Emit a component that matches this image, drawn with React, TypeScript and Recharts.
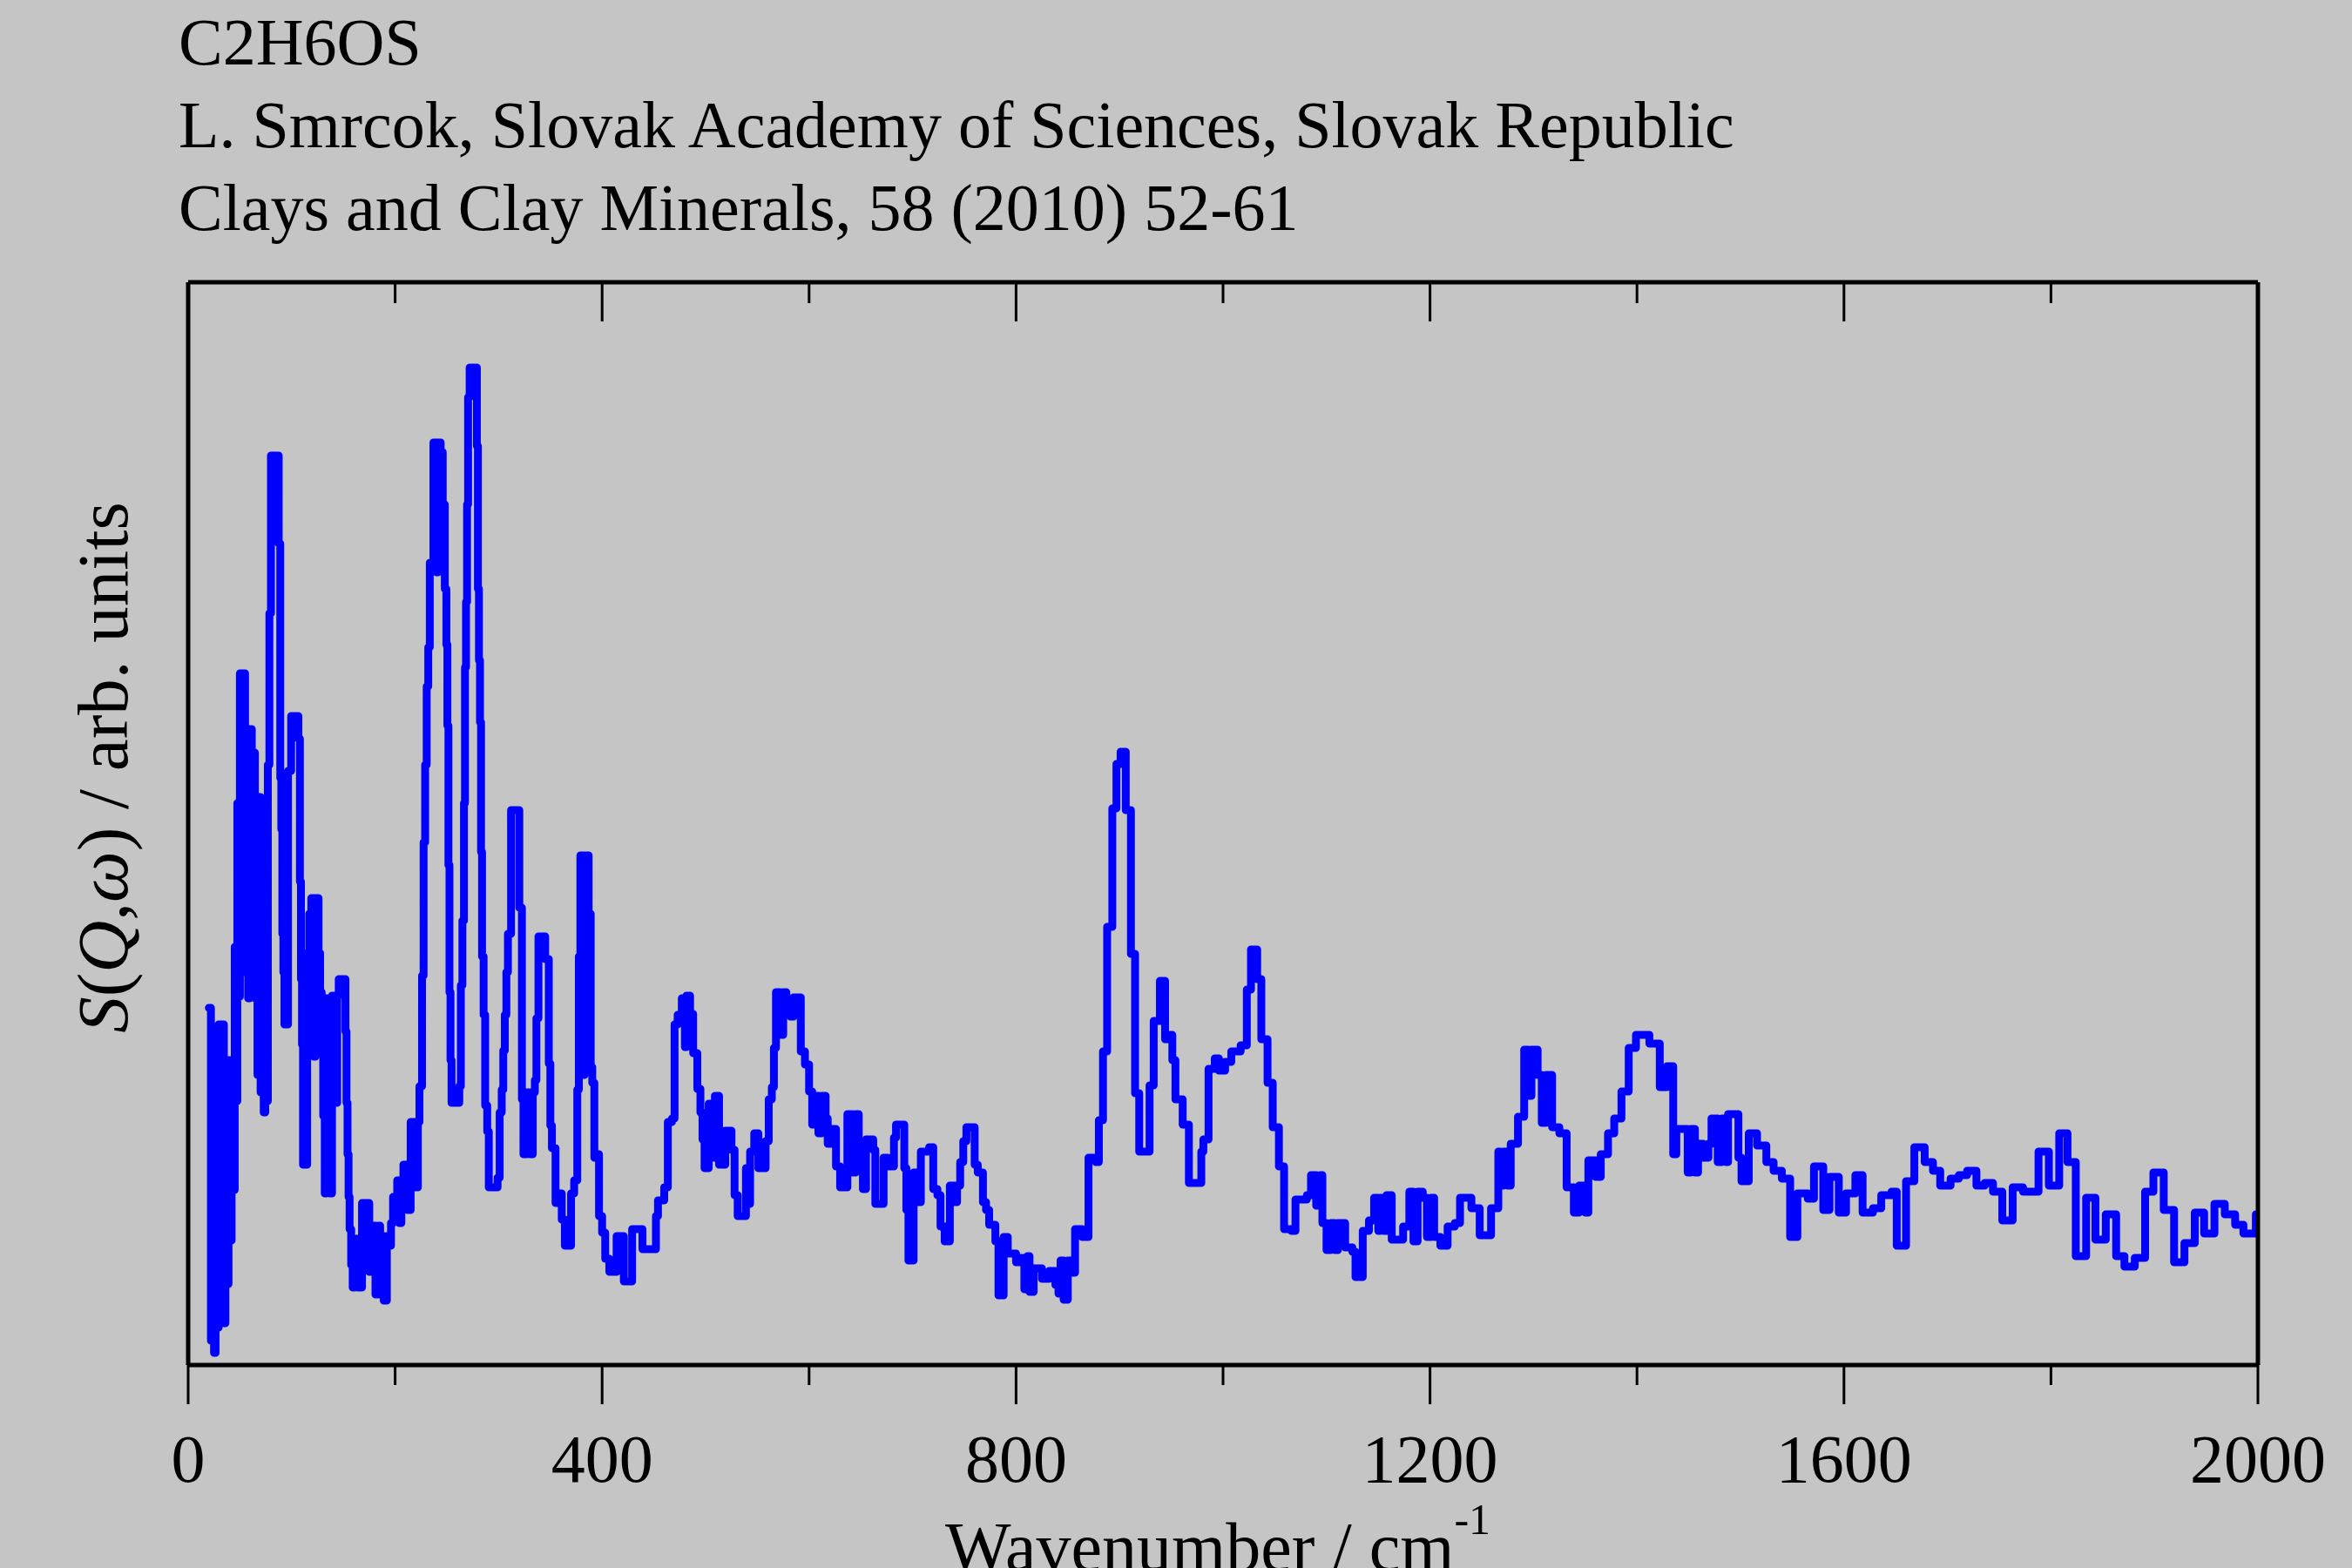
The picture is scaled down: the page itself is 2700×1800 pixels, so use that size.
import { Line, LineChart, XAxis, YAxis } from "recharts";

// bin start (cm-1) and S(Q,w), arbitrary units
const wavenumber = [
  20, 22, 23.5, 25, 26.5, 28, 29.5, 31.5, 33, 34.5, 36, 37.5, 39, 40.5, 42, 43.5, 45, 46.5, 47.5, 49,
  50, 51.5, 53, 55, 56.5, 58, 59.5, 61.5, 63, 64.5, 65.5, 67, 68.5, 70, 71.5, 73, 74.5, 76, 77, 78.5,
  80, 82, 83, 87.5, 89, 90, 91, 92, 93, 96.5, 99.5, 106.5, 108, 109, 110, 111, 115, 117, 119, 121.5,
  123, 126, 127.5, 129, 130.5, 132, 133.5, 137, 139, 142, 144, 145.5, 152, 153, 154, 155, 156, 157.5, 159, 161,
  164, 168, 175, 178, 181, 184, 185.5, 189, 192, 194, 196, 198, 202, 204, 206, 208, 212, 215, 220, 222,
  223.5, 226, 227.5, 229, 230.5, 232, 233.5, 237, 240, 241.5, 244, 246, 248, 249.5, 250.5, 251.5, 252.5, 253.5, 254.5, 262,
  263.5, 265, 266.5, 267.5, 268.5, 269.5, 270.5, 272, 279, 280, 281, 282, 283, 284, 285.5, 287, 289, 290.5, 299, 301,
  303, 304.5, 306, 307.5, 309, 312, 320, 322.5, 324, 327, 330, 333, 335, 336.5, 338.5, 345, 348.5, 350, 351.5, 355,
  358, 361, 364, 370, 373, 376, 377.5, 379, 381.5, 383, 387, 389, 390.5, 392.5, 394.5, 397, 400, 403, 407, 414,
  421, 429, 439, 452, 454, 460, 463.5, 467.5, 470, 473, 477, 480, 481.5, 485, 488, 492, 495, 497, 499, 503,
  507, 509, 513, 519, 525, 528, 531, 539, 541, 543, 547, 551, 558, 561, 564, 566, 568, 572, 575, 578,
  582, 585, 592, 596, 600, 603, 606, 609, 612, 616, 618, 621, 626, 630, 637, 642, 645, 648, 652, 655,
  662, 664, 672, 676, 682, 684, 692, 694, 696, 701, 704, 708, 716, 720, 724, 727, 731, 736, 741, 743,
  746, 749, 752, 760, 763, 768, 771, 774, 780, 783, 788, 792, 800, 805, 808, 811, 813, 817, 825, 832,
  838, 841, 843, 846, 850, 853, 857, 864, 870, 877, 880, 884, 888, 893, 897, 901, 906, 911, 915, 919,
  929, 933, 939, 944, 947, 951, 954, 961, 967, 979, 981, 986, 992, 996, 1002, 1008, 1017, 1023, 1027, 1033,
  1037, 1043, 1048, 1054, 1059, 1066, 1070, 1081, 1085, 1090, 1094, 1096, 1100, 1104, 1108, 1111, 1118, 1125, 1128, 1135,
  1141, 1146, 1150, 1152, 1155, 1158, 1163, 1174, 1180, 1184, 1188, 1193, 1197, 1201, 1204, 1210, 1217, 1224, 1229, 1240,
  1248, 1259, 1266, 1268, 1271, 1275, 1278, 1285, 1291, 1295, 1298, 1304, 1308, 1312, 1318, 1325, 1332, 1339, 1344, 1350,
  1353, 1360, 1365, 1372, 1378, 1385, 1392, 1399, 1412, 1422, 1429, 1435, 1438, 1449, 1452, 1456, 1459, 1464, 1469, 1472,
  1478, 1482, 1486, 1488, 1498, 1501, 1508, 1516, 1525, 1532, 1540, 1548, 1555, 1565, 1571, 1580, 1586, 1595, 1602, 1611,
  1618, 1628, 1636, 1646, 1651, 1660, 1668, 1678, 1686, 1693, 1703, 1711, 1719, 1728, 1736, 1744, 1753, 1763, 1773, 1788,
  1798, 1808, 1816, 1824, 1834, 1843, 1853, 1863, 1871, 1881, 1891, 1899, 1909, 1919, 1929, 1939, 1948, 1958, 1968, 1978,
  1986, 1998, 2000,
];

const intensity = [
  407, 25, 240, 11, 180, 40, 388, 110, 388, 45, 313, 90, 347, 140, 347, 198, 477, 300, 642, 420,
  791, 560, 791, 448, 727, 418, 727, 470, 700, 418, 649, 330, 649, 310, 545, 287, 560, 300, 686, 860,
  1041, 970, 1041, 940, 671, 612, 492, 448, 388, 679, 742, 716, 552, 440, 365, 227, 470, 515, 533, 351,
  533, 470, 425, 384, 283, 194, 418, 194, 421, 298, 421, 440, 380, 298, 239, 190, 153, 112, 86, 142,
  86, 183, 104, 157, 78, 157, 145, 71, 145, 134, 160, 190, 209, 160, 209, 227, 175, 276, 201, 276,
  317, 444, 597, 686, 776, 821, 918, 1056, 907, 1056, 1045, 985, 888, 824, 731, 571, 425, 347, 298, 317,
  433, 507, 642, 798, 873, 985, 1108, 1142, 1052, 888, 806, 735, 586, 466, 399, 295, 265, 201, 212, 287,
  313, 358, 399, 448, 492, 634, 522, 302, 239, 310, 239, 310, 324, 395, 489, 463, 343, 272, 246, 183,
  194, 164, 134, 194, 209, 313, 466, 582, 330, 582, 515, 339, 321, 235, 239, 168, 149, 119, 104, 145,
  93, 153, 130, 168, 186, 201, 276, 280, 388, 399, 418, 362, 421, 400, 355, 314, 287, 256, 223, 297,
  235, 306, 227, 266, 244, 192, 168, 223, 182, 242, 263, 223, 254, 302, 316, 361, 425, 376, 425, 414,
  397, 419, 357, 342, 311, 273, 306, 263, 306, 280, 251, 268, 225, 201, 285, 218, 285, 242, 199, 256,
  244, 182, 235, 225, 258, 273, 223, 175, 117, 218, 184, 242, 247, 199, 192, 156, 139, 203, 184, 203,
  230, 254, 270, 227, 218, 184, 175, 158, 139, 77, 144, 125, 115, 120, 84, 122, 81, 108, 96, 105,
  89, 79, 117, 72, 117, 103, 153, 144, 235, 230, 278, 357, 500, 636, 687, 701, 634, 469, 309, 242,
  318, 392, 438, 371, 376, 347, 302, 273, 206, 242, 256, 337, 349, 335, 345, 357, 364, 428, 474, 440,
  371, 321, 270, 225, 153, 151, 187, 192, 215, 180, 215, 160, 129, 160, 129, 160, 132, 127, 98, 151,
  163, 189, 151, 189, 151, 192, 141, 156, 196, 139, 196, 189, 144, 189, 144, 134, 156, 160, 189, 177,
  146, 177, 242, 203, 242, 203, 251, 282, 359, 306, 359, 330, 275, 330, 270, 263, 201, 172, 203, 172,
  232, 213, 239, 263, 280, 311, 361, 376, 366, 316, 340, 239, 268, 218, 268, 218, 251, 235, 251, 280,
  230, 280, 230, 285, 235, 208, 263, 249, 230, 220, 211, 144, 194, 188, 225, 175, 213, 172, 194, 215,
  172, 177, 192, 196, 134, 208, 247, 230, 220, 203, 211, 215, 220, 203, 206, 196, 163, 201, 196, 242,
  203, 263, 230, 122, 189, 141, 170, 122, 110, 120, 196, 218, 175, 115, 137, 172, 148, 182, 170, 158,
  148, 170, 170,
];

const xTicks = [0, 200, 400, 600, 800, 1000, 1200, 1400, 1600, 1800, 2000];
const xLabels = [0, 400, 800, 1200, 1600, 2000];

const titleLines = [
  "C2H6OS",
  "L. Smrcok, Slovak Academy of Sciences, Slovak Republic",
  "Clays and Clay Minerals, 58 (2010) 52-61",
];

const FONT = '"Liberation Serif", "Times New Roman", serif';

function BottomTick(props: any) {
  const { x, y, payload } = props;
  const major = xLabels.includes(payload.value);
  return (
    <g>
      <line x1={x} x2={x} y1={y} y2={y + (major ? 45 : 23)} stroke="#000" strokeWidth={3} />
      {major && (
        <text x={x} y={y + 134} textAnchor="middle" fontFamily={FONT} fontSize={78} fill="#000">
          {payload.value}
        </text>
      )}
    </g>
  );
}

function TopTick(props: any) {
  const { x, y, payload } = props;
  const major = xLabels.includes(payload.value);
  return <line x1={x} x2={x} y1={y} y2={y + (major ? 45 : 24)} stroke="#000" strokeWidth={3} />;
}

export default function App() {
  const data = wavenumber.map((w, i) => ({ w, s: intensity[i] }));
  const frame = { stroke: "#000", strokeWidth: 5 };

  return (
    <div
      style={{
        position: "absolute",
        left: 0,
        top: 0,
        width: 2700,
        height: 1800,
        background: "#c5c5c5",
        overflow: "hidden",
      }}
    >
      <LineChart width={2700} height={1800} data={data} margin={{ top: 323, right: 107, bottom: 232, left: 215 }}>
        <XAxis
          xAxisId="bottom"
          type="number"
          dataKey="w"
          domain={[0, 2000]}
          ticks={xTicks}
          interval={0}
          height={1}
          tickSize={0}
          tickMargin={0}
          tickLine={false}
          axisLine={frame}
          tick={<BottomTick />}
          allowDataOverflow
        />
        <XAxis
          xAxisId="top"
          orientation="top"
          type="number"
          dataKey="w"
          domain={[0, 2000]}
          ticks={xTicks}
          interval={0}
          height={1}
          tickSize={0}
          tickMargin={0}
          tickLine={false}
          axisLine={frame}
          tick={<TopTick />}
          allowDataOverflow
        />
        <YAxis yAxisId="left" domain={[-3, 1240]} width={1} tick={false} tickLine={false} axisLine={frame} allowDataOverflow />
        <YAxis
          yAxisId="right"
          orientation="right"
          domain={[-3, 1240]}
          width={1}
          tick={false}
          tickLine={false}
          axisLine={frame}
          allowDataOverflow
        />
        <Line
          xAxisId="bottom"
          yAxisId="left"
          type="stepAfter"
          dataKey="s"
          stroke="#0000ff"
          strokeWidth={9}
          strokeLinejoin="round"
          strokeLinecap="round"
          dot={false}
          activeDot={false}
          isAnimationActive={false}
        />
      </LineChart>

      <svg
        width={2700}
        height={1800}
        style={{ position: "absolute", left: 0, top: 0, pointerEvents: "none" }}
        fontFamily={FONT}
        fill="#000"
      >
        {titleLines.map((t, i) => (
          <text key={t} x={205} y={74 + i * 95} fontSize={76}>
            {t}
          </text>
        ))}
        <text x={1085} y={1803} fontSize={80}>
          Wavenumber / cm
          <tspan fontSize={50} dy={-42}>
            -1
          </tspan>
        </text>
        <text x={146} y={881} fontSize={83} textAnchor="middle" transform="rotate(-90 146 881)">
          <tspan fontStyle="italic">S</tspan>(<tspan fontStyle="italic">Q</tspan>,<tspan fontStyle="italic">ω</tspan>) / arb. units
        </text>
      </svg>
    </div>
  );
}
